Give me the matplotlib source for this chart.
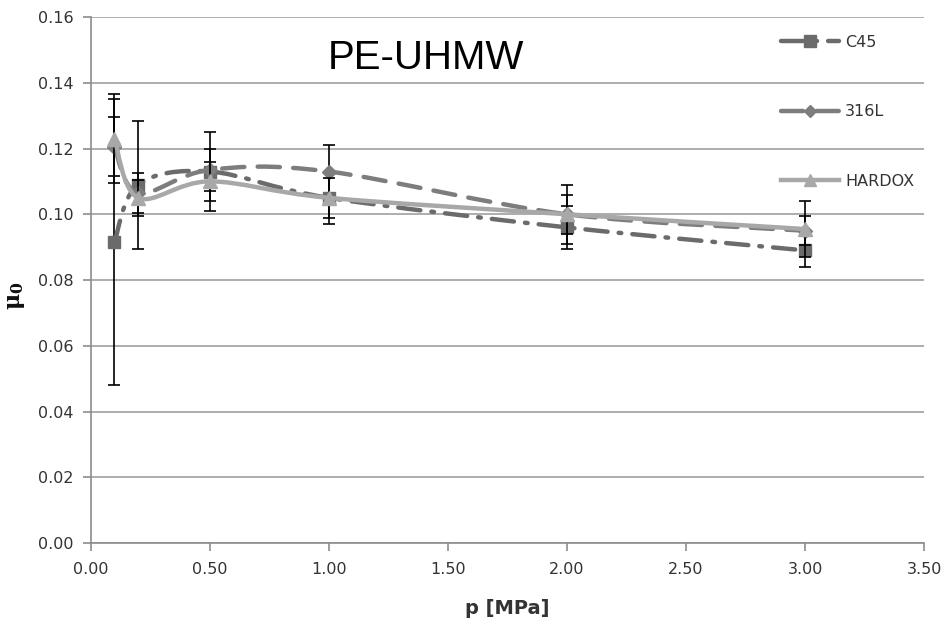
import numpy as np
import matplotlib
matplotlib.use("Agg")
import matplotlib.pyplot as plt
from matplotlib.path import Path
from matplotlib.patches import PathPatch
from matplotlib.lines import Line2D

# Datos
p = [0.1, 0.2, 0.5, 1.0, 2.0, 3.0]

c45 = [0.0915, 0.1090, 0.1130, 0.1050, 0.0960, 0.0890]
c45_err = [0.0435, 0.0195, 0.0120, 0.0080, 0.0065, 0.0050]

s316 = [0.1205, 0.1065, 0.1135, 0.1130, 0.1000, 0.0950]
s316_err = [0.0090, 0.0060, 0.0065, 0.0080, 0.0090, 0.0045]

hardox = [0.1230, 0.1050, 0.1100, 0.1050, 0.1000, 0.0955]
hardox_err = [0.0135, 0.0055, 0.0060, 0.0060, 0.0060, 0.0085]

labels = ["C45", "316L", "HARDOX"]
x_ticks = [0.0, 0.5, 1.0, 1.5, 2.0, 2.5, 3.0, 3.5]
y_ticks = [0.00, 0.02, 0.04, 0.06, 0.08, 0.10, 0.12, 0.14, 0.16]

plt.rcParams["mathtext.fontset"] = "dejavuserif"


def smooth_path(x, y):
    # curva suavizada tipo Excel (Bezier cubica por Catmull-Rom)
    pts = np.column_stack([x, y])
    verts = [pts[0]]
    codes = [Path.MOVETO]
    n = len(pts)
    for i in range(n - 1):
        p0 = pts[max(i - 1, 0)]
        p1 = pts[i]
        p2 = pts[i + 1]
        p3 = pts[min(i + 2, n - 1)]
        c1 = p1 + (p2 - p0) / 6.0
        c2 = p2 - (p3 - p1) / 6.0
        verts += [c1, c2, p2]
        codes += [Path.CURVE4] * 3
    return Path(verts, codes)


fig = plt.figure(figsize=(9.46, 6.23), dpi=100)
ax = fig.add_axes([0.0957, 0.1284, 0.8814, 0.8443])

series = [
    (c45, c45_err, "#6b6b6b", "s", 9, (0, (5, 2.5, 0.6, 2.5))),
    (s316, s316_err, "#7d7d7d", "D", 7, (0, (5, 3))),
    (hardox, hardox_err, "#a8a8a8", "^", 10, "-"),
]

handles = []
for i, (vals, err, col, mk, ms, ls) in enumerate(series):
    ax.errorbar(p, vals, yerr=err, fmt="none", ecolor="black", elinewidth=1.2,
                capsize=4, capthick=1.2, zorder=3 + i)
    patch = PathPatch(smooth_path(p, vals), fill=False, edgecolor=col, lw=3.2,
                      linestyle=ls, capstyle="round", zorder=3 + i)
    ax.add_patch(patch)
    ax.plot(p, vals, ls="none", marker=mk, ms=ms, color=col, zorder=4 + i)
    handles.append(Line2D([], [], color=col, lw=3.2, ls=ls, marker=mk, ms=ms - 1,
                          dash_capstyle="round"))

ax.set_xlim(0, 3.5)
ax.set_ylim(0, 0.16)
ax.set_xticks(x_ticks)
ax.set_yticks(y_ticks)
ax.set_xticklabels([f"{v:.2f}" for v in x_ticks])
ax.set_yticklabels([f"{v:.2f}" for v in y_ticks])
ax.tick_params(labelsize=11.5, colors="#8c8c8c", labelcolor="#333333",
               length=6, width=1.2, direction="out")
ax.tick_params(axis="x", pad=8)
ax.tick_params(axis="y", pad=6)

ax.yaxis.grid(True, color="#a0a0a0", lw=1.2)
ax.set_axisbelow(True)
for s in ["top", "right"]:
    ax.spines[s].set_visible(False)
for s in ["left", "bottom"]:
    ax.spines[s].set_color("#8c8c8c")
    ax.spines[s].set_linewidth(1.2)

ax.set_xlabel("p [MPa]", fontsize=14, fontweight="bold", color="#333333")
ax.xaxis.set_label_coords(0.5, -0.107)
ax.set_ylabel(r"$\mathbf{\mu_0}$", fontsize=16, color="#111111")
ax.yaxis.set_label_coords(-0.076, 0.47)

ax.text(0.402, 0.922, "PE-UHMW", transform=ax.transAxes, fontsize=29,
        family="Liberation Sans", ha="center", va="center", color="black")

leg = ax.legend(handles, labels, loc="upper right", bbox_to_anchor=(1.005, 0.993),
                frameon=False, fontsize=11.5, handlelength=3.6, labelspacing=3.4,
                handletextpad=0.4)
for t in leg.get_texts():
    t.set_color("#333333")

fig.savefig("out.png", dpi=100)
